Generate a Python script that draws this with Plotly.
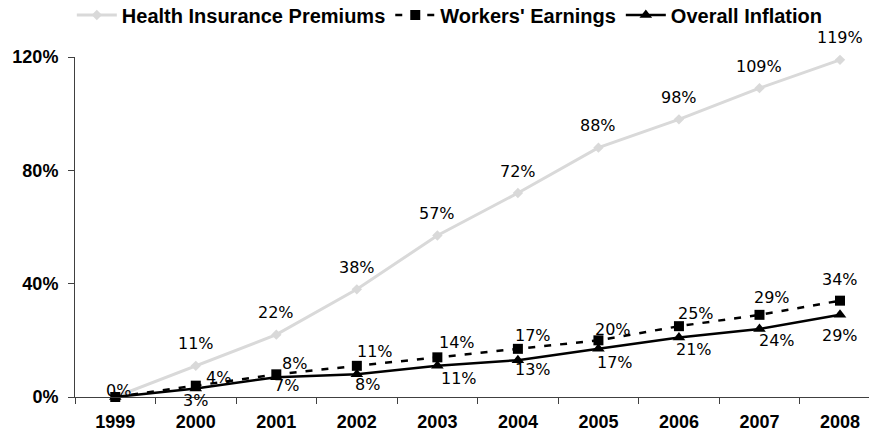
import plotly.graph_objects as go

years = ["1999", "2000", "2001", "2002", "2003", "2004", "2005", "2006", "2007", "2008"]
health = [0, 11, 22, 38, 57, 72, 88, 98, 109, 119]
workers = [0, 4, 8, 11, 14, 17, 20, 25, 29, 34]
inflation = [0, 3, 7, 8, 11, 13, 17, 21, 24, 29]
y_ticks = [0, 40, 80, 120]

# label offsets in pixels (styling)
health_dx = [3, 0, 0, 0, 0, 0, 0, 0, 0, 0]
health_dy = [7, 22, 22, 22, 22, 22, 22, 22, 22, 22]
workers_dx = [None, 23, 18, 18, 20, 15, 15, 17, 13, 0]
workers_dy = [None, 8, 11, 14, 15, 13, 11, 13, 17, 21]
infl_dx = [None, 0, 10, 11, 22, 15, 17, 15, 18, 0]
infl_dy = [None, -12, -8, -10, -13, -9, -14, -12, -11, -21]

LABEL_FONT = dict(family="DejaVu Sans", size=16, color="#000000")
TICK_FONT = dict(family="Liberation Sans", size=18, color="#000000", weight="bold")

fig = go.Figure()
fig.add_trace(go.Scatter(
    x=years, y=health, name="Health Insurance Premiums", mode="lines+markers",
    line=dict(color="#d9d9d9", width=3),
    marker=dict(symbol="diamond", size=8, color="#d9d9d9"),
    cliponaxis=False))
fig.add_trace(go.Scatter(
    x=years, y=workers, name="Workers' Earnings", mode="lines+markers",
    line=dict(color="#000000", width=2.5, dash="7px,9px"),
    marker=dict(symbol="square", size=10, color="#000000"),
    cliponaxis=False))
fig.add_trace(go.Scatter(
    x=years, y=inflation, name="Overall Inflation", mode="lines+markers",
    line=dict(color="#000000", width=2.5),
    marker=dict(symbol="triangle-up", size=11, color="#000000"),
    cliponaxis=False))

annotations = []
for i, v in enumerate(health):
    annotations.append(dict(x=i, y=v, xref="x", yref="y", text=f"{v}%", showarrow=False,
                            xshift=health_dx[i], yshift=health_dy[i], font=LABEL_FONT))
for vals, dxs, dys in ((workers, workers_dx, workers_dy), (inflation, infl_dx, infl_dy)):
    for i, v in enumerate(vals):
        if dxs[i] is None:
            continue
        annotations.append(dict(x=i, y=v, xref="x", yref="y", text=f"{v}%", showarrow=False,
                                xshift=dxs[i], yshift=dys[i], font=LABEL_FONT))

fig.update_layout(
    width=869, height=439,
    margin=dict(l=75, r=0, t=57, b=42, autoexpand=False),
    paper_bgcolor="white", plot_bgcolor="white",
    showlegend=True,
    legend=dict(orientation="h", x=-0.004, xanchor="left", y=1.1235, yanchor="middle",
                font=dict(family="Liberation Sans", size=20, color="#000000", weight="bold"),
                itemwidth=40, tracegroupgap=0, bgcolor="rgba(0,0,0,0)"),
    annotations=annotations,
    xaxis=dict(type="category", range=[-0.5, 9.36], showgrid=False, automargin=False,
               showline=True, linecolor="#404040", linewidth=1,
               ticks="outside", tickson="boundaries", ticklen=6, tickcolor="#404040",
               ticklabelstandoff=8, tickfont=TICK_FONT),
    yaxis=dict(range=[0, 120], tickvals=y_ticks, ticktext=[f"{t}%" for t in y_ticks],
               showgrid=False, zeroline=False, showline=True, linecolor="#404040", linewidth=1,
               ticks="outside", ticklen=6, tickcolor="#404040", automargin=False,
               ticklabelstandoff=6, tickfont=TICK_FONT),
)

fig.write_html("out.html", config={"displayModeBar": False},
               post_script="document.body.style.margin='0';")
